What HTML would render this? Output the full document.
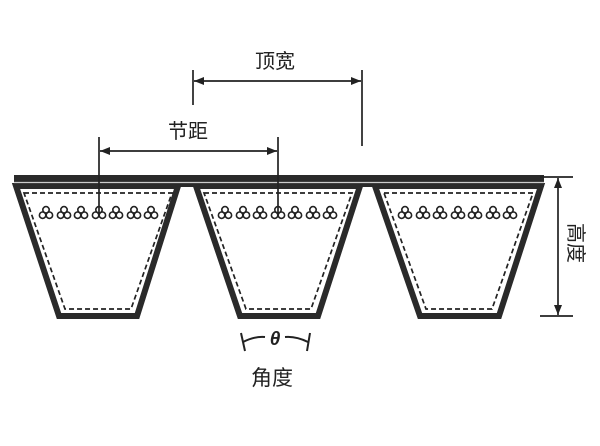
<!DOCTYPE html>
<html><head><meta charset="utf-8"><style>
body{margin:0;background:#fff;}
svg{display:block;}
text{font-family:"Liberation Sans","Noto Sans CJK SC",sans-serif;fill:#222;}
</style></head><body>
<svg width="600" height="446" viewBox="0 0 600 446" xmlns="http://www.w3.org/2000/svg">
<defs>
<g id="cl" fill="none" stroke="#222" stroke-width="1.6">
<circle cx="0" cy="-3.2" r="3.2"/><circle cx="-3.4" cy="2.2" r="3.2"/><circle cx="3.4" cy="2.2" r="3.2"/>
</g>
<marker id="ar" viewBox="0 0 10 10" refX="10" refY="5" markerWidth="16" markerHeight="10" markerUnits="userSpaceOnUse" orient="auto-start-reverse"><path d="M0,1 L10,5 L0,9 z" fill="#222"/></marker>
</defs>
<g fill="#fff" stroke="#2a2a2a" stroke-width="6" stroke-linejoin="miter">
<path d="M16,186 L178,186 L137,316 L59,316 Z"/>
<path d="M196,186 L360,186 L318,316 L240,316 Z"/>
<path d="M375,186 L541,186 L499,316 L420,316 Z"/>
</g>
<g fill="none" stroke="#222" stroke-width="1.7" stroke-dasharray="5,3">
<path d="M24,193 L172,193 L131,309 L65,309 Z"/>
<path d="M204,193 L352,193 L311,309 L246,309 Z"/>
<path d="M384,193 L533,193 L492,309 L426,309 Z"/>
</g>
<rect x="14" y="175" width="530" height="12" fill="#2a2a2a"/>
<line x1="14" y1="182.5" x2="544" y2="182.5" stroke="#ccc" stroke-width="1.2"/>
<g>
<use href="#cl" x="46" y="213"/><use href="#cl" x="64" y="213"/><use href="#cl" x="81" y="213"/><use href="#cl" x="99" y="213"/><use href="#cl" x="116" y="213"/><use href="#cl" x="134" y="213"/><use href="#cl" x="151" y="213"/>
<use href="#cl" x="225" y="213"/><use href="#cl" x="243" y="213"/><use href="#cl" x="260" y="213"/><use href="#cl" x="278" y="213"/><use href="#cl" x="295" y="213"/><use href="#cl" x="313" y="213"/><use href="#cl" x="330" y="213"/>
<use href="#cl" x="405" y="213"/><use href="#cl" x="423" y="213"/><use href="#cl" x="440" y="213"/><use href="#cl" x="458" y="213"/><use href="#cl" x="475" y="213"/><use href="#cl" x="493" y="213"/><use href="#cl" x="510" y="213"/>
</g>
<g stroke="#222" stroke-width="1.7" fill="none">
<line x1="193" y1="70" x2="193" y2="105"/>
<line x1="362" y1="70" x2="362" y2="146"/>
<line x1="194" y1="81" x2="361" y2="81" marker-start="url(#ar)" marker-end="url(#ar)"/>
<line x1="99" y1="137" x2="99" y2="213"/>
<line x1="278" y1="137" x2="278" y2="213"/>
<line x1="100" y1="151" x2="277" y2="151" marker-start="url(#ar)" marker-end="url(#ar)"/>
<line x1="540" y1="177" x2="573" y2="177"/>
<line x1="540" y1="316" x2="573" y2="316"/>
<line x1="558" y1="178" x2="558" y2="315" marker-start="url(#ar)" marker-end="url(#ar)"/>
<path d="M241,333 L245,351" stroke-width="2"/>
<path d="M310,333 L307,351" stroke-width="2"/>
<path d="M243,342 Q255,336 265,337" stroke-width="2"/>
<path d="M285,337 Q296,336 308,342" stroke-width="2"/>
</g>
<text x="275" y="68" font-size="20" text-anchor="middle">顶宽</text>
<text x="188" y="138" font-size="20" text-anchor="middle">节距</text>
<text x="275" y="345" font-size="19" font-style="italic" font-weight="bold" text-anchor="middle">θ</text>
<text x="272" y="385" font-size="21" text-anchor="middle">角度</text>
<text transform="translate(569,223) rotate(90)" font-size="20">高度</text>
</svg>
</body></html>
